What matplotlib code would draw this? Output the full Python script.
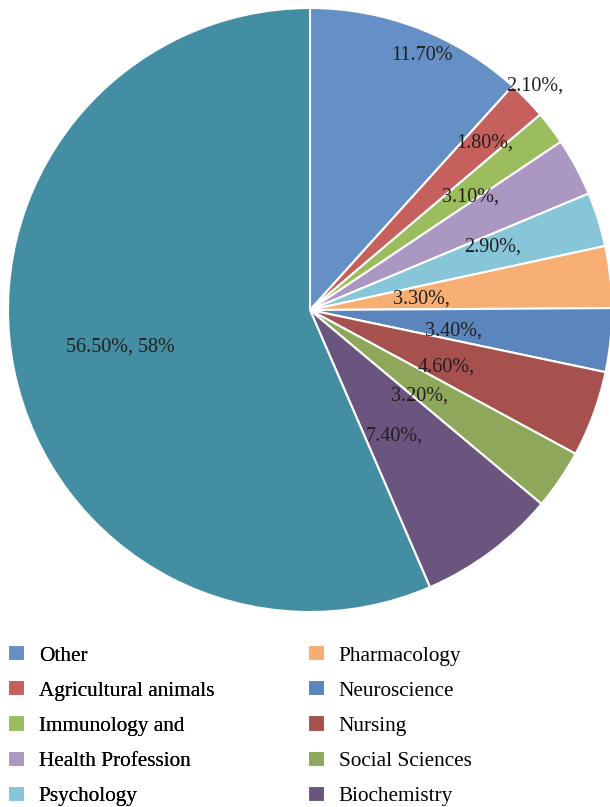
import matplotlib.pyplot as plt
import numpy as np

# slices, clockwise from 12 o'clock
categories = ['Other', 'Agricultural animals', 'Immunology and', 'Health Profession',
              'Psychology', 'Pharmacology', 'Neuroscience', 'Nursing',
              'Social Sciences', 'Biochemistry', '']
values = [11.7, 2.1, 1.8, 3.1, 2.9, 3.3, 3.4, 4.6, 3.2, 7.4, 56.5]
value_labels = ['11.70%', '2.10%,', '1.80%,', '3.10%,', '2.90%,', '3.30%,',
                '3.40%,', '4.60%,', '3.20%,', '7.40%,', '56.50%, 58%']

colors = ['#6590c6', '#c6605c', '#9bbd5e', '#ab98c2', '#86c6d8', '#f6ae72',
          '#5a86bd', '#a7514f', '#8fa75a', '#6a557f', '#448ea3']

# label placement: radius fraction and clockwise angle shift from wedge middle (deg)
lab_r = [0.92, 1.05, 0.80, 0.65, 0.64, 0.37, 0.48, 0.49, 0.46, 0.50, 0.64]
lab_shift = [2.8, -0.9, -6.7, -6.7, -1.5, 0.7, 2.4, 2.7, 4.0, 3.0, 0.8]

plt.rcParams['font.family'] = ['Liberation Serif', 'DejaVu Serif']

fig = plt.figure(figsize=(6.10, 8.07), dpi=100)
W, H = 610.0, 807.0
cx, cy, R = 310.0, 310.0, 302.0
ax = fig.add_axes([(cx - R) / W, (H - cy - R) / H, 2 * R / W, 2 * R / H])

wedges, _ = ax.pie(values, colors=colors, startangle=90, counterclock=False,
                   wedgeprops=dict(edgecolor='white', linewidth=1.5))
ax.set_xlim(-1, 1)
ax.set_ylim(-1, 1)
ax.axis('off')

for w, txt, r, s in zip(wedges, value_labels, lab_r, lab_shift):
    mid = np.deg2rad((w.theta1 + w.theta2) / 2.0 - s)
    ax.text(r * np.cos(mid), r * np.sin(mid), txt, ha='center', va='center',
            fontsize=14.5, color='#231f20', clip_on=False)

leg_kw = dict(frameon=False, fontsize=15.3, handlelength=0.8, handleheight=0.8,
              handletextpad=0.65, labelspacing=0.69, borderpad=0, borderaxespad=0)
left = fig.legend(wedges[:5], categories[:5], loc='upper left',
                  bbox_to_anchor=(8 / W, 1 - 645 / H), **leg_kw)
fig.add_artist(left)
fig.legend(wedges[5:10], categories[5:10], loc='upper left',
           bbox_to_anchor=(308 / W, 1 - 645 / H), **leg_kw)

plt.savefig('out.png', dpi=100)
